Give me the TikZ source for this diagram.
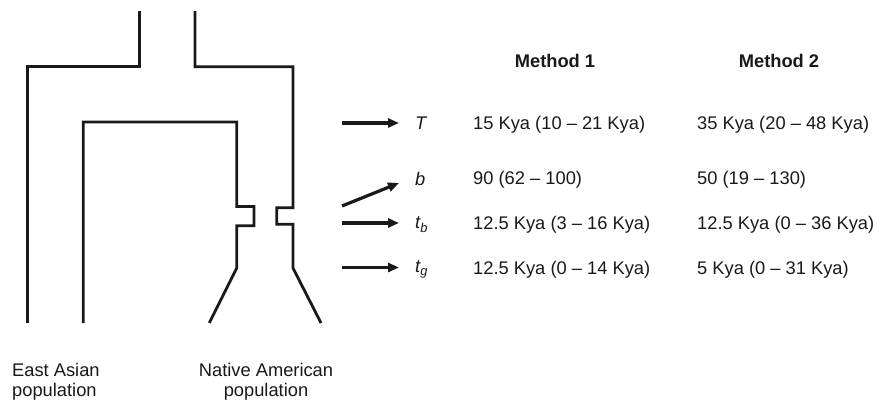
\documentclass[tikz,border=0pt]{standalone}
\usepackage{fontspec}
\setmainfont{Liberation Sans}
\usetikzlibrary{arrows.meta}
\begin{document}
\begin{tikzpicture}[x=1pt,y=-1pt,
  tree/.style={line width=2.8pt,line join=miter,color=black!90},
  arr/.style={line width=3.2pt,-{Triangle[length=11pt,width=9pt]},color=black!90},
  txt/.style={inner sep=0pt,font=\fontsize{18.3}{20}\selectfont,color=black!90},
  lab/.style={txt,anchor=base west,font=\fontsize{18.3}{20}\selectfont\itshape},
  val/.style={txt,anchor=base west},
  head/.style={txt,anchor=base,font=\fontsize{18.3}{20}\selectfont\bfseries}]
\useasboundingbox (0,0) rectangle (880,402);
% tree: outer
\draw[tree] (139.3,11) -- (139.3,66.7) -- (27.3,66.7) -- (27.3,323);
\draw[tree] (195,11) -- (195,66.7) -- (293,66.7) -- (293,207.7) -- (276.7,207.7)
  -- (276.7,224.3) -- (293,224.3) -- (293,268) -- (321,323);
% tree: inner
\draw[tree] (83.3,323) -- (83.3,122) -- (236.7,122) -- (236.7,206.5) -- (254,206.5)
  -- (254,225.7) -- (236.7,225.7) -- (236.7,268) -- (209.3,323);
% population labels
\node[txt,anchor=north west,align=left] (ea) at (12,363.5) {East Asian\\population};
\node[txt,anchor=north,align=center] (na) at (266,363.5) {Native American\\population};
% headings
\node[head] (m1) at (555,67.6) {Method 1};
\node[head] (m2) at (779,67.6) {Method 2};
% parameter labels
\node[lab] (T) at (415,129.6) {T};
\node[lab] (b) at (415,185) {b};
\node[lab] (tb) at (415,228.8) {t\textsubscript{b}};
\node[lab] (tg) at (415,272.5) {t\textsubscript{g}};
% arrows
\coordinate (sT) at (342,123);
\coordinate (eT) at (399,123);
\coordinate (sb) at (342,206);
\coordinate (eb) at (399,183);
\coordinate (stb) at (342,223);
\coordinate (etb) at (399,223);
\coordinate (stg) at (342,267.5);
\coordinate (etg) at (399,267.5);
\draw[arr] (sT) -- (eT);
\draw[arr] (sb) -- (eb);
\draw[arr] (stb) -- (etb);
\draw[arr] (stg) -- (etg);
% values
\node[val] (v1T) at (473,129.6) {15 Kya (10 – 21 Kya)};
\node[val] (v2T) at (697,129.6) {35 Kya (20 – 48 Kya)};
\node[val] (v1b) at (473,184.6) {90 (62 – 100)};
\node[val] (v2b) at (697,184.6) {50 (19 – 130)};
\node[val] (v1tb) at (473,229.6) {12.5 Kya (3 – 16 Kya)};
\node[val] (v2tb) at (697,229.6) {12.5 Kya (0 – 36 Kya)};
\node[val] (v1tg) at (473,274.2) {12.5 Kya (0 – 14 Kya)};
\node[val] (v2tg) at (697,274.2) {5 Kya (0 – 31 Kya)};
\end{tikzpicture}
\end{document}
